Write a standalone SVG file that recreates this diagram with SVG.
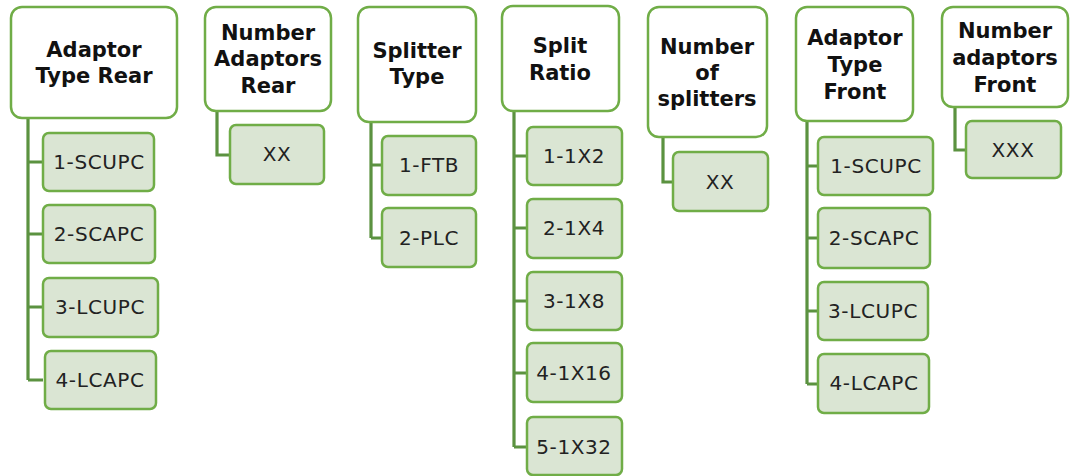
<svg xmlns="http://www.w3.org/2000/svg" width="1070" height="476" viewBox="0 0 1070 476">
<style>
.hdr{fill:#ffffff;stroke:#70ad47;stroke-width:2.5}
.kid{fill:#dae5d3;stroke:#70ad47;stroke-width:2.5}
.ht{font-family:"DejaVu Sans",sans-serif;font-weight:bold;font-size:21px;fill:#111;text-anchor:middle}
.kt{font-family:"DejaVu Sans",sans-serif;font-size:20px;fill:#222;text-anchor:middle;letter-spacing:0.6px}
.con{fill:none;stroke:#5b9240;stroke-width:3.2}
</style>
<rect width="1070" height="476" fill="#ffffff"/>
<g id="connectors">
<path class="con" d="M28 118V380M28 162H43M28 234H43M28 307H43M28 380H43"/>
<path class="con" d="M217 111V155H230"/>
<path class="con" d="M371 122V238M371 165H382M371 238H382"/>
<path class="con" d="M514 111V447M514 156H527M514 228H527M514 301H527M514 373H527M514 447H527"/>
<path class="con" d="M663 137V182H673"/>
<path class="con" d="M807 121V384M807 166H818M807 238H818M807 311H818M807 384H818"/>
<path class="con" d="M955 107V150H966"/>
</g>
<g id="adaptor-type-rear">
<rect class="hdr" x="11" y="7" width="166" height="111" rx="11"/>
<text class="ht" x="94" y="57">Adaptor</text>
<text class="ht" x="94" y="83">Type Rear</text>
</g>
<g id="atr-1"><rect class="kid" x="43" y="133" width="111" height="58" rx="6"/><text class="kt" x="99" y="169">1-SCUPC</text></g>
<g id="atr-2"><rect class="kid" x="43" y="205" width="112" height="58" rx="6"/><text class="kt" x="99" y="241">2-SCAPC</text></g>
<g id="atr-3"><rect class="kid" x="43" y="278" width="115" height="59" rx="6"/><text class="kt" x="100" y="314">3-LCUPC</text></g>
<g id="atr-4"><rect class="kid" x="45" y="351" width="111" height="58" rx="6"/><text class="kt" x="100" y="387">4-LCAPC</text></g>

<g id="number-adaptors-rear">
<rect class="hdr" x="205" y="7" width="126" height="104" rx="11"/>
<text class="ht" x="268" y="40">Number</text>
<text class="ht" x="268" y="66">Adaptors</text>
<text class="ht" x="268" y="93">Rear</text>
</g>
<g id="nar-1"><rect class="kid" x="230" y="125" width="94" height="59" rx="6"/><text class="kt" x="277" y="161">XX</text></g>

<g id="splitter-type">
<rect class="hdr" x="358" y="7" width="118" height="115" rx="11"/>
<text class="ht" x="417" y="58">Splitter</text>
<text class="ht" x="417" y="84">Type</text>
</g>
<g id="st-1"><rect class="kid" x="382" y="136" width="94" height="59" rx="6"/><text class="kt" x="429" y="172">1-FTB</text></g>
<g id="st-2"><rect class="kid" x="382" y="208" width="94" height="59" rx="6"/><text class="kt" x="429" y="245">2-PLC</text></g>

<g id="split-ratio">
<rect class="hdr" x="502" y="6" width="117" height="105" rx="11"/>
<text class="ht" x="560" y="53">Split</text>
<text class="ht" x="560" y="80">Ratio</text>
</g>
<g id="sr-1"><rect class="kid" x="527" y="127" width="95" height="58" rx="6"/><text class="kt" x="574" y="163">1-1X2</text></g>
<g id="sr-2"><rect class="kid" x="527" y="199" width="95" height="59" rx="6"/><text class="kt" x="574" y="235">2-1X4</text></g>
<g id="sr-3"><rect class="kid" x="527" y="272" width="95" height="58" rx="6"/><text class="kt" x="574" y="308">3-1X8</text></g>
<g id="sr-4"><rect class="kid" x="527" y="343" width="95" height="59" rx="6"/><text class="kt" x="574" y="380">4-1X16</text></g>
<g id="sr-5"><rect class="kid" x="527" y="417" width="95" height="58" rx="6"/><text class="kt" x="574" y="454">5-1X32</text></g>

<g id="number-of-splitters">
<rect class="hdr" x="648" y="7" width="119" height="130" rx="11"/>
<text class="ht" x="707" y="54">Number</text>
<text class="ht" x="707" y="80">of</text>
<text class="ht" x="707" y="106">splitters</text>
</g>
<g id="ns-1"><rect class="kid" x="673" y="152" width="95" height="59" rx="6"/><text class="kt" x="720" y="189">XX</text></g>

<g id="adaptor-type-front">
<rect class="hdr" x="796" y="7" width="117" height="114" rx="11"/>
<text class="ht" x="855" y="45">Adaptor</text>
<text class="ht" x="855" y="72">Type</text>
<text class="ht" x="855" y="99">Front</text>
</g>
<g id="atf-1"><rect class="kid" x="818" y="137" width="115" height="58" rx="6"/><text class="kt" x="876" y="173">1-SCUPC</text></g>
<g id="atf-2"><rect class="kid" x="818" y="208" width="112" height="60" rx="6"/><text class="kt" x="874" y="245">2-SCAPC</text></g>
<g id="atf-3"><rect class="kid" x="818" y="282" width="110" height="58" rx="6"/><text class="kt" x="873" y="318">3-LCUPC</text></g>
<g id="atf-4"><rect class="kid" x="818" y="354" width="111" height="59" rx="6"/><text class="kt" x="874" y="390">4-LCAPC</text></g>

<g id="number-adaptors-front">
<rect class="hdr" x="942" y="7" width="126" height="100" rx="11"/>
<text class="ht" x="1005" y="38">Number</text>
<text class="ht" x="1005" y="65">adaptors</text>
<text class="ht" x="1005" y="92">Front</text>
</g>
<g id="naf-1"><rect class="kid" x="966" y="121" width="95" height="57" rx="6"/><text class="kt" x="1013" y="157">XXX</text></g>
</svg>
